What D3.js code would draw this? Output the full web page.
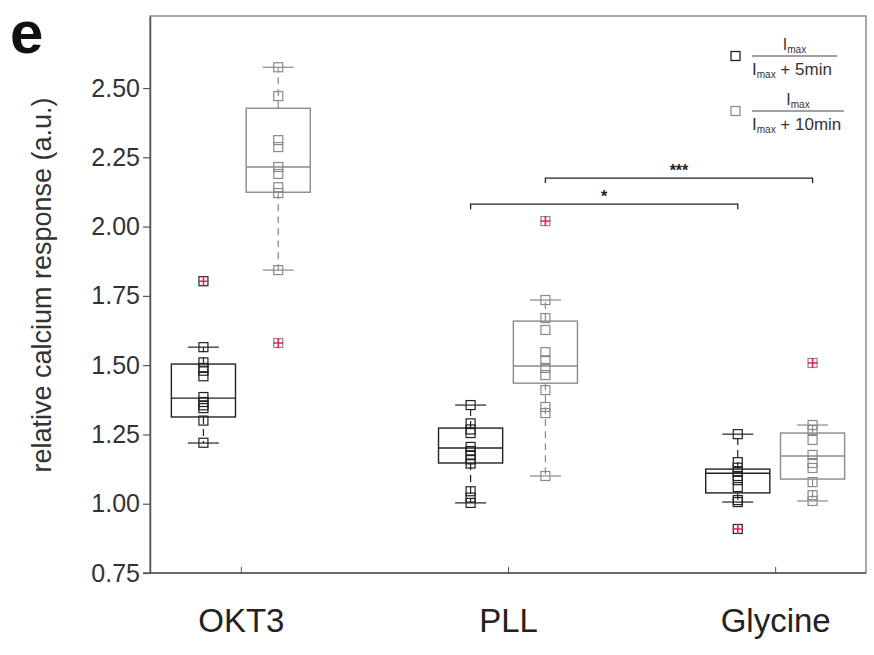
<!DOCTYPE html>
<html>
<head>
<meta charset="utf-8">
<script src="https://cdn.jsdelivr.net/npm/d3@7"></script>
<style>
  body { margin: 0; background: #fff; }
  text { font-family: "Liberation Sans", Arial, sans-serif; }
</style>
</head>
<body>
<svg id="chart" width="874" height="655"></svg>
<script>
// categories and series
var categories = ["OKT3", "PLL", "Glycine"];
var series = ["5min", "10min"];

// raw points per category, series 5min then 10min
var okt3Points5 = [1.22, 1.30, 1.345, 1.355, 1.367, 1.385, 1.46, 1.48, 1.49, 1.51, 1.565];
var okt3Points10 = [1.843, 2.121, 2.142, 2.19, 2.215, 2.287, 2.312, 2.471, 2.575];
var pllPoints5 = [1.003, 1.022, 1.045, 1.145, 1.16, 1.175, 1.19, 1.205, 1.255, 1.268, 1.29, 1.356];
var pllPoints10 = [1.10, 1.327, 1.349, 1.41, 1.464, 1.49, 1.518, 1.547, 1.627, 1.670, 1.735];
var glyPoints5 = [1.006, 1.013, 1.06, 1.085, 1.10, 1.115, 1.13, 1.15, 1.251];
var glyPoints10 = [1.010, 1.031, 1.078, 1.129, 1.147, 1.176, 1.23, 1.266, 1.284];

// outliers
var okt3Out = [[1.803], [1.58]];
var pllOut = [[], [2.02]];
var glyOut = [[0.909], [1.508]];

// box stats: [lower whisker, q1, median, q3, upper whisker]
var okt3Box = [[1.219, 1.313, 1.381, 1.504, 1.565], [1.843, 2.124, 2.215, 2.427, 2.575]];
var pllBox = [[1.003, 1.147, 1.201, 1.273, 1.356], [1.100, 1.435, 1.497, 1.659, 1.735]];
var glyBox = [[1.006, 1.039, 1.11, 1.125, 1.251], [1.010, 1.089, 1.172, 1.255, 1.284]];

var yTicks = [0.75, 1.00, 1.25, 1.50, 1.75, 2.00, 2.25, 2.50];

// significance brackets: category index pairs, same series
var sigFrom = [[1, 0], [1, 1]];
var sigTo = [[2, 0], [2, 1]];
var sigLevel = [2.081, 2.175];
var sigText = ["*", "***"];

var points = [[okt3Points5, okt3Points10], [pllPoints5, pllPoints10], [glyPoints5, glyPoints10]];
var outliers = [okt3Out, pllOut, glyOut];
var boxes = [okt3Box, pllBox, glyBox];

var colors = ["#222", "#8a8a8a"];
var offset = [-0.14, 0.14];
var boxHalf = 0.12, capHalf = 0.058;

var svg = d3.select("#chart");
var pLeft = 150, pRight = 866, pTop = 16, pBottom = 573;

var x = d3.scaleLinear().domain([0.66, 3.34]).range([pLeft, pRight]);
var y = d3.scaleLinear().domain([0.75, 2.76]).range([pBottom, pTop]);

function cx(ci, si) { return ci + 1 + offset[si]; }

// frame
svg.append("rect")
    .attr("x", pLeft).attr("y", pTop)
    .attr("width", pRight - pLeft).attr("height", pBottom - pTop)
    .attr("fill", "none").attr("stroke", "#8c8c8c").attr("stroke-width", 1.5);

// y axis
var yAxis = svg.append("g")
    .attr("transform", "translate(" + pLeft + ",0)")
    .call(d3.axisLeft(y).tickValues(yTicks).tickFormat(d3.format(".2f")).tickSize(7).tickSizeOuter(0));
yAxis.select(".domain").attr("stroke", "#555").attr("stroke-width", 1.5);
yAxis.selectAll(".tick line").attr("stroke", "#555").attr("stroke-width", 1.2);
yAxis.selectAll(".tick text")
    .attr("font-size", 25).attr("fill", "#333").attr("x", -10)
    .style("font-family", "Liberation Sans, Arial, sans-serif");

// x axis
var xAxis = svg.append("g")
    .attr("transform", "translate(0," + pBottom + ")")
    .call(d3.axisBottom(x).tickValues([1, 2, 3]).tickFormat(function(d) { return categories[d - 1]; })
        .tickSize(-6).tickSizeOuter(0));
xAxis.select(".domain").attr("d", "M" + (pLeft - 7) + ",0H" + pRight).attr("stroke", "#555").attr("stroke-width", 1.5);
xAxis.selectAll(".tick line").attr("stroke", "#555");
xAxis.selectAll(".tick text")
    .attr("font-size", 33).attr("fill", "#222").attr("y", 36)
    .style("font-family", "Liberation Sans, Arial, sans-serif");

// y label
svg.append("text")
    .attr("transform", "translate(51,285) rotate(-90)")
    .attr("text-anchor", "middle")
    .attr("font-size", 27).attr("fill", "#333")
    .text("relative calcium response (a.u.)");

// panel letter
svg.append("text")
    .attr("x", 10).attr("y", 53)
    .attr("font-size", 60).attr("font-weight", "bold").attr("fill", "#111")
    .text("e");

// boxes
categories.forEach(function(cat, ci) {
    series.forEach(function(s, si) {
        var b = boxes[ci][si];
        var c = cx(ci, si);
        var g = svg.append("g").attr("stroke", colors[si]).attr("fill", "none");
        // whiskers (dashed)
        g.append("line").attr("x1", x(c)).attr("x2", x(c)).attr("y1", y(b[3])).attr("y2", y(b[4]))
            .attr("stroke-dasharray", "7,5").attr("stroke-width", 1.2);
        g.append("line").attr("x1", x(c)).attr("x2", x(c)).attr("y1", y(b[1])).attr("y2", y(b[0]))
            .attr("stroke-dasharray", "7,5").attr("stroke-width", 1.2);
        // caps
        [b[0], b[4]].forEach(function(v) {
            g.append("line").attr("x1", x(c - capHalf)).attr("x2", x(c + capHalf))
                .attr("y1", y(v)).attr("y2", y(v)).attr("stroke-width", 1.2);
        });
        // box
        g.append("rect").attr("x", x(c - boxHalf)).attr("width", x(c + boxHalf) - x(c - boxHalf))
            .attr("y", y(b[3])).attr("height", y(b[1]) - y(b[3])).attr("stroke-width", 1.4);
        // median
        g.append("line").attr("x1", x(c - boxHalf)).attr("x2", x(c + boxHalf))
            .attr("y1", y(b[2])).attr("y2", y(b[2])).attr("stroke-width", 1.4);

        // points
        var sz = 9;
        g.selectAll("rect.pt").data(points[ci][si]).enter().append("rect")
            .attr("class", "pt")
            .attr("x", x(c) - sz / 2).attr("y", function(d) { return y(d) - sz / 2; })
            .attr("width", sz).attr("height", sz)
            .attr("fill", "none").attr("stroke-width", 1.2);

        // outliers: square with red plus
        var o = svg.append("g").selectAll("g").data(outliers[ci][si]).enter().append("g")
            .attr("transform", function(d) { return "translate(" + x(c) + "," + y(d) + ")"; });
        o.append("rect").attr("x", -sz / 2).attr("y", -sz / 2).attr("width", sz).attr("height", sz)
            .attr("fill", "none").attr("stroke", colors[si]).attr("stroke-width", 1.2);
        o.append("path").attr("d", "M-5,0H5M0,-5V5").attr("stroke", "#e8204f").attr("stroke-width", 1.6);
    });
});

// significance brackets
sigText.forEach(function(t, i) {
    var x1 = x(cx(sigFrom[i][0], sigFrom[i][1]));
    var x2 = x(cx(sigTo[i][0], sigTo[i][1]));
    var yy = y(sigLevel[i]);
    svg.append("path")
        .attr("d", "M" + x1 + "," + (yy + 5) + "V" + yy + "H" + x2 + "V" + (yy + 5))
        .attr("fill", "none").attr("stroke", "#222").attr("stroke-width", 1.3);
    svg.append("text")
        .attr("x", (x1 + x2) / 2).attr("y", yy - 2)
        .attr("text-anchor", "middle").attr("font-size", 16).attr("font-weight", "bold").attr("fill", "#222")
        .text(t);
});

// legend
var legDen = ["+ 5min", "+ 10min"];
var legY = [56, 111];
var legLineEnd = [837, 844];
legDen.forEach(function(d, i) {
    var g = svg.append("g");
    g.append("rect").attr("x", 731).attr("y", legY[i] - 4.5).attr("width", 9).attr("height", 9)
        .attr("fill", "none").attr("stroke", colors[i]).attr("stroke-width", 1.3);
    g.append("line").attr("x1", 752).attr("x2", legLineEnd[i]).attr("y1", legY[i]).attr("y2", legY[i])
        .attr("stroke", "#444").attr("stroke-width", 1.2);
    var num = g.append("text").attr("x", (752 + legLineEnd[i]) / 2).attr("y", legY[i] - 6)
        .attr("text-anchor", "middle").attr("font-size", 16).attr("fill", "#333");
    num.append("tspan").text("I");
    num.append("tspan").attr("font-size", 10).attr("dy", 3).text("max");
    var den = g.append("text").attr("x", 752).attr("y", legY[i] + 19)
        .attr("font-size", 17).attr("fill", "#333");
    den.append("tspan").text("I");
    den.append("tspan").attr("font-size", 10).attr("dy", 3).text("max");
    den.append("tspan").attr("dy", -3).text(" " + d);
});
</script>
</body>
</html>
